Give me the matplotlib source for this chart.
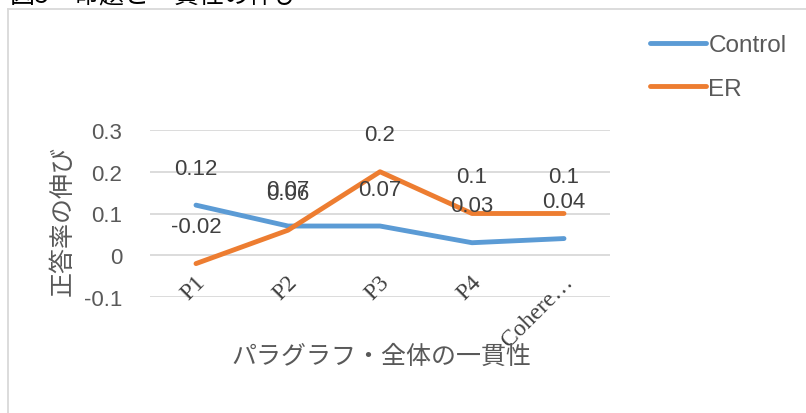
import matplotlib
matplotlib.use("Agg")
import matplotlib.pyplot as plt
from matplotlib.lines import Line2D

plt.rcParams["font.family"] = ["Liberation Sans", "Noto Sans CJK JP", "DejaVu Sans"]

# データ
categories = ["P1", "P2", "P3", "P4", "Cohere…"]
control = [0.12, 0.07, 0.07, 0.03, 0.04]
er = [-0.02, 0.06, 0.2, 0.1, 0.1]
y_ticks = [-0.1, 0, 0.1, 0.2, 0.3]

BLUE = "#5B9BD5"
ORANGE = "#ED7D31"
GRID = "#D9D9D9"
TXT = "#595959"
LBL = "#404040"

W, H = 806, 414
fig = plt.figure(figsize=(W / 100, H / 100), dpi=100)
ax = fig.add_axes([150 / W, 1 - 298 / H, 460 / W, 167 / H])

x = list(range(len(categories)))
ax.plot(x, control, color=BLUE, lw=3.5, solid_capstyle="round", label="Control", zorder=3)
ax.plot(x, er, color=ORANGE, lw=3.5, solid_capstyle="round", label="ER", zorder=3)

# データラベル（点の上）
for series in (control, er):
    for i, v in enumerate(series):
        ax.annotate(f"{v:g}", (i, v), xytext=(0, 37), textcoords="offset pixels",
                    ha="center", va="center", fontsize=16, color=LBL, zorder=4)

ax.set_xlim(-0.5, len(categories) - 0.5)
ax.set_ylim(-0.1, 0.3)
ax.set_yticks(y_ticks)
ax.set_yticklabels([f"{t:g}" for t in y_ticks], fontsize=16, color=TXT)
ax.tick_params(axis="y", length=0, pad=20)
ax.set_xticks([])
ax.grid(axis="y", color=GRID, lw=1.3)
ax.set_axisbelow(True)
for s in ax.spines.values():
    s.set_visible(False)

# 項目ラベルは0の線に沿って斜めに
for i, c in enumerate(categories):
    ax.annotate(c, (i, 0), xytext=(10, -27), textcoords="offset pixels",
                rotation=45, rotation_mode="anchor", ha="right", va="baseline",
                fontsize=17, color=LBL, family="Liberation Serif", annotation_clip=False)

ax.set_ylabel("正答率の伸び", fontsize=18, color=TXT, family="Noto Sans CJK JP")
ax.yaxis.set_label_coords(-(150 - 76) / 460, 0.46)
fig.text(381 / W, 1 - 357 / H, "パラグラフ・全体の一貫性", fontsize=18, color=TXT,
         family="Noto Sans CJK JP", ha="center", va="center")

leg = ax.legend(loc="upper left", bbox_to_anchor=(650 / W, 1 - 35 / H),
                bbox_transform=fig.transFigure, frameon=False, fontsize=17.5,
                handlelength=2.3, handletextpad=0.1, labelspacing=0.9,
                borderpad=0, borderaxespad=0)
for t in leg.get_texts():
    t.set_color(TXT)
for h in leg.get_lines():
    h.set_linewidth(3.5)
    h.set_solid_capstyle("round")

# グラフエリアの枠
fig.add_artist(Line2D([8 / W, 8 / W], [0, 1 - 10 / H], color=GRID, lw=1.3))
fig.add_artist(Line2D([8 / W, 1], [1 - 10 / H, 1 - 10 / H], color=GRID, lw=1.3))

# タイトル（上端で切れている）
fig.text(10 / W, 1 - 2 / H, "図5　命題と一貫性の伸び", fontsize=18, color="black",
         family="Noto Sans CJK JP", ha="left", va="baseline")

fig.savefig("out.png", dpi=100)
